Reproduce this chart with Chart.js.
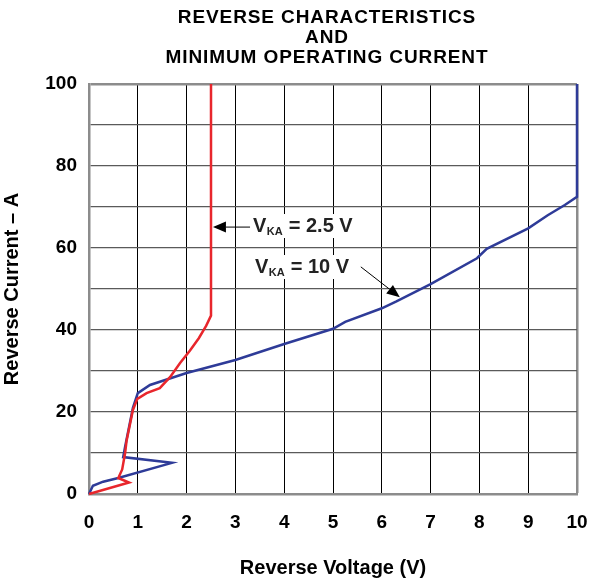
<!DOCTYPE html>
<html>
<head>
<meta charset="utf-8">
<script src="https://cdn.jsdelivr.net/npm/chart.js@4"></script>
<style>
  html, body { margin: 0; padding: 0; background: #fff; }
  #wrap { width: 592px; height: 584px; }
</style>
</head>
<body>
<div id="wrap"><canvas id="chart" width="592" height="584"></canvas></div>
<script>
// curve for VKA = 2.5 V (red)
const redV = [0, 0.82, 0.6, 0.68, 0.74, 0.77, 0.9, 0.99, 1.18, 1.45, 1.66, 1.87, 2.07, 2.25, 2.4, 2.5, 2.5];
const redI = [0, 2.8, 3.9, 6, 10, 13, 20.5, 23.2, 24.6, 25.8, 28.5, 32, 35, 38, 41, 43.5, 100];

// curve for VKA = 10 V (blue)
const blueV = [0, 0.08, 0.29, 0.6, 1.7, 0.7, 0.74, 0.9, 1.0, 1.25, 2.0, 3.0, 4.0, 5.0, 5.25, 6.0, 6.3, 7.0, 7.95, 8.15, 9.0, 9.4, 9.75, 10, 10];
const blueI = [0, 2, 3, 3.9, 7.6, 9, 11.5, 21, 24.6, 26.6, 29.5, 32.7, 36.6, 40.3, 42, 45.3, 47, 51.2, 57.5, 59.8, 64.8, 68, 70.5, 72.5, 100];

const xTicks = [0, 1, 2, 3, 4, 5, 6, 7, 8, 9, 10];
const yTicks = [0, 20, 40, 60, 80, 100];
const titleLines = ['REVERSE CHARACTERISTICS', 'AND', 'MINIMUM OPERATING CURRENT'];

const FONT = '"Liberation Sans", Arial, Helvetica, sans-serif';

function toPoints(xs, ys) {
  return xs.map((x, i) => ({ x: x, y: ys[i] }));
}

// title drawn over the plot centre
const titlePlugin = {
  id: 'stackTitle',
  afterDraw(chart) {
    const ctx = chart.ctx;
    ctx.save();
    ctx.fillStyle = '#000';
    ctx.font = 'bold 19px ' + FONT;
    ctx.letterSpacing = '0.9px';
    ctx.textAlign = 'center';
    ctx.textBaseline = 'middle';
    titleLines.forEach((t, i) => ctx.fillText(t, 327, 18 + i * 20));
    ctx.restore();
  }
};

// VKA labels with arrows
const labelPlugin = {
  id: 'vkaLabels',
  afterDatasetsDraw(chart) {
    const ctx = chart.ctx;
    const xs = chart.scales.x, ys = chart.scales.y;
    const px = v => xs.getPixelForValue(v);
    const py = v => ys.getPixelForValue(v);

    function arrow(x0, y0, x1, y1) {
      const ax = px(x0), ay = py(y0), bx = px(x1), by = py(y1);
      const ang = Math.atan2(by - ay, bx - ax);
      const len = 13, half = 5.5;
      ctx.strokeStyle = '#000';
      ctx.lineWidth = 1;
      ctx.beginPath();
      ctx.moveTo(ax, ay);
      ctx.lineTo(bx - Math.cos(ang) * len, by - Math.sin(ang) * len);
      ctx.stroke();
      ctx.fillStyle = '#000';
      ctx.beginPath();
      ctx.moveTo(bx, by);
      ctx.lineTo(bx - Math.cos(ang) * len - Math.sin(ang) * half, by - Math.sin(ang) * len + Math.cos(ang) * half);
      ctx.lineTo(bx - Math.cos(ang) * len + Math.sin(ang) * half, by - Math.sin(ang) * len - Math.cos(ang) * half);
      ctx.closePath();
      ctx.fill();
    }

    function label(xv, yv, value) {
      const x = px(xv), y = py(yv);
      const big = 'bold 20px ' + FONT, small = 'bold 11px ' + FONT;
      ctx.font = big;
      const wV = ctx.measureText('V').width;
      ctx.font = small;
      const wKA = ctx.measureText('KA').width;
      ctx.font = big;
      const rest = ' = ' + value + ' V';
      const wRest = ctx.measureText(rest).width;
      ctx.fillStyle = '#fff';
      ctx.fillRect(x - 3, y - 18, wV + wKA + wRest + 6, 24);
      ctx.fillStyle = '#222';
      ctx.textAlign = 'left';
      ctx.textBaseline = 'alphabetic';
      ctx.fillText('V', x, y);
      ctx.font = small;
      ctx.fillText('KA', x + wV + 0.5, y + 3);
      ctx.font = big;
      ctx.fillText(rest, x + wV + wKA + 1, y);
    }

    ctx.save();
    label(3.36, 63.9, '2.5');
    arrow(3.30, 65.1, 2.54, 65.1);
    label(3.40, 53.9, '10');
    arrow(5.57, 55.4, 6.37, 48.0);
    ctx.restore();
  }
};

new Chart(document.getElementById('chart'), {
  type: 'scatter',
  data: {
    datasets: [
      {
        label: 'VKA = 2.5 V',
        data: toPoints(redV, redI),
        showLine: true,
        borderColor: '#e8262c',
        borderWidth: 2.5,
        pointRadius: 0,
        tension: 0,
        clip: 5
      },
      {
        label: 'VKA = 10 V',
        data: toPoints(blueV, blueI),
        showLine: true,
        borderColor: '#2e3b98',
        borderWidth: 2.5,
        pointRadius: 0,
        tension: 0,
        clip: 5
      }
    ]
  },
  options: {
    responsive: false,
    animation: false,
    devicePixelRatio: 1,
    layout: { padding: { top: 84, right: 15, left: 0, bottom: 0 } },
    plugins: {
      legend: { display: false },
      tooltip: { enabled: false },
      title: { display: false }
    },
    scales: {
      x: {
        type: 'linear',
        min: 0,
        max: 10,
        afterFit(scale) {
          scale.height = 90;
          scale.paddingLeft = 0;
          scale.paddingRight = 0;
        },
        afterBuildTicks(scale) { scale.ticks = xTicks.map(v => ({ value: v })); },
        ticks: {
          color: '#000',
          padding: 17,
          maxRotation: 0,
          font: { family: FONT, size: 19, weight: 'bold' }
        },
        grid: {
          drawTicks: false,
          color: c => (c.tick && c.tick.value === 10 ? '#8c8c8c' : '#000'),
          lineWidth: c => (c.tick && c.tick.value === 10 ? 2.5 : 1)
        },
        border: { color: '#8c8c8c', width: 2.5 },
        title: {
          display: true,
          text: 'Reverse Voltage (V)',
          color: '#000',
          font: { family: FONT, size: 20, weight: 'bold' },
          padding: { top: 0, bottom: 4 }
        }
      },
      y: {
        type: 'linear',
        min: 0,
        max: 100,
        afterFit(scale) { scale.width = 89; },
        ticks: {
          stepSize: 10,
          color: '#000',
          padding: 12,
          font: { family: FONT, size: 19, weight: 'bold' },
          callback: v => (yTicks.includes(v) ? String(v) : '')
        },
        grid: {
          drawTicks: false,
          color: c => (c.tick && c.tick.value === 100 ? '#8c8c8c' : '#5a5a5a'),
          lineWidth: c => (c.tick && c.tick.value === 100 ? 2.5 : 1.3)
        },
        border: { color: '#8c8c8c', width: 2.5 },
        title: {
          display: true,
          text: 'Reverse Current – A',
          color: '#000',
          font: { family: FONT, size: 20, weight: 'bold' },
          padding: { top: 0, bottom: 8 }
        }
      }
    }
  },
  plugins: [titlePlugin, labelPlugin]
});
</script>
</body>
</html>
